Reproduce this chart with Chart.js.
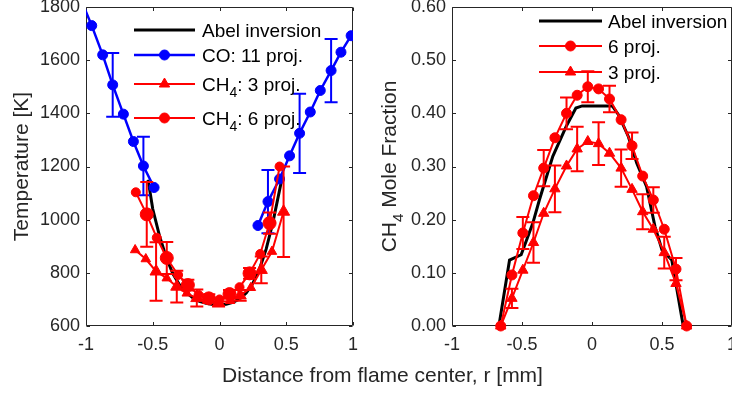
<!DOCTYPE html>
<html>
<head>
<meta charset="utf-8">
<script src="https://cdn.jsdelivr.net/npm/chart.js@4.4.1/dist/chart.umd.min.js"></script>
<style>
  html, body { margin: 0; padding: 0; background: #fff; overflow: hidden; width: 732px; height: 394px; }
  #tempChart { position: absolute; left: 0; top: 0; }
  #fracChart { position: absolute; left: 380px; top: 0; }
  #xTitle {
    position: absolute; left: 0; top: 364px; width: 765px; text-align: center;
    font: 21px 'Liberation Sans', Arial, Helvetica, sans-serif; line-height: 21px;
    color: #262626; white-space: nowrap;
  }
</style>
</head>
<body>
<canvas id="tempChart" width="362" height="394"></canvas>
<canvas id="fracChart" width="352" height="394"></canvas>
<div id="xTitle">Distance from flame center, r [mm]</div>
<script>
// ---- Temperature panel (K) ----
const tempAbelR = [-0.535, -0.5, -0.45, -0.4, -0.35, -0.3, -0.25, -0.2, -0.15, -0.1, -0.05, 0, 0.05, 0.1, 0.15, 0.2, 0.25, 0.3, 0.35, 0.4, 0.47];
const tempAbelK = [1150, 1040, 940, 860, 797, 755, 726, 706, 693, 685, 681, 680, 682, 689, 702, 724, 760, 815, 890, 990, 1160];

const coR       = [-1.04, -0.957, -0.875, -0.80, -0.72, -0.645, -0.57, -0.49, null, 0.288, 0.363, 0.45, 0.525, 0.60, 0.68, 0.755, 0.836, 0.91, 0.986];
const coTempK   = [1830, 1730, 1620, 1507, 1397, 1294, 1202, 1121, null, 978, 1068, 1153, 1240, 1325, 1405, 1486, 1561, 1630, 1692];
const coTempErr = [null, null, null, 120, null, null, 110, null, null, null, 119, null, null, 149, null, null, 119, null, null];

const ch4R3       = [-0.632, -0.552, -0.475, -0.395, -0.32, -0.245, -0.17, -0.09, -0.007, 0.08, 0.155, 0.235, 0.313, 0.393, 0.48];
const ch4TempK3   = [886, 852, 805, 780, 748, 723, 705, 695, 688, 695, 715, 744, 811, 880, 1030];
const ch4TempErr3 = [null, null, 110, null, 60, null, 32, null, 15, null, 20, null, 50, null, 170];

const ch4R6       = [-0.627, -0.545, -0.47, -0.395, -0.31, -0.237, -0.157, -0.08, 0.0, 0.075, 0.15, 0.225, 0.305, 0.375, 0.45];
const ch4TempK6   = [1103, 1020, 932, 856, 792, 754, 717, 704, 700, 720, 746, 798, 871, 987, 1200];
const ch4TempErr6 = [null, 122, null, 60, null, 20, null, 15, null, 15, null, 20, null, 40, null];

// ---- CH4 mole fraction panel ----
const fracAbelR = [-0.665, -0.589, -0.506, -0.423, -0.376, -0.28, -0.185, -0.115, -0.07, 0.145, 0.19, 0.26, 0.32, 0.39, 0.45, 0.5, 0.57, 0.64, 0.652];
const fracAbel  = [0, 0.124, 0.134, 0.193, 0.237, 0.319, 0.375, 0.41, 0.414, 0.414, 0.397, 0.356, 0.306, 0.262, 0.187, 0.143, 0.124, 0.018, 0];

const fracR    = [-0.652, -0.572, -0.494, -0.418, -0.345, -0.265, -0.182, -0.106, -0.03, 0.047, 0.125, 0.208, 0.286, 0.362, 0.438, 0.516, 0.60, 0.676];
const frac6    = [0, 0.096, 0.175, 0.245, 0.297, 0.354, 0.400, 0.434, 0.450, 0.446, 0.427, 0.388, 0.339, 0.282, 0.237, 0.182, 0.107, 0];
const fracErr6 = [null, null, 0.03, null, 0.034, null, 0.03, null, 0.029, null, 0.025, null, 0.025, null, 0.024, null, 0.021, null];
const frac3    = [0, 0.052, 0.105, 0.157, 0.212, 0.258, 0.301, 0.333, 0.347, 0.343, 0.325, 0.297, 0.257, 0.215, 0.182, 0.138, 0.080, 0];
const fracErr3 = [null, 0.018, null, 0.038, null, 0.044, null, 0.042, null, 0.04, null, 0.035, null, 0.033, null, 0.03, null, null];

// ---- Axis ticks ----
const rTicks    = [-1, -0.5, 0, 0.5, 1];
const tempTicks = [600, 800, 1000, 1200, 1400, 1600, 1800];
const fracTicks = [0, 0.1, 0.2, 0.3, 0.4, 0.5, 0.6];

const FONT = "'Liberation Sans', Arial, Helvetica, sans-serif";
const AXIS = '#262626';
const BLUE = '#0000ff', RED = '#ff0000', BLACK = '#000000';
const TICK_LEN = 3.5;
const CAP = 6.5;

const pts = (xs, ys) => xs.map((x, i) => ({ x: x, y: ys[i] }));

function series(xs, ys, color, width, style, radius, errors) {
  return {
    data: pts(xs, ys),
    borderColor: color,
    backgroundColor: color,
    borderWidth: width,
    pointStyle: style || false,
    pointRadius: radius || 0,
    pointBorderWidth: 1,
    pointBorderColor: color,
    pointBackgroundColor: color,
    tension: 0,
    spanGaps: false,
    errors: errors || null,
    clip: 8
  };
}

// vertical error bars with caps, drawn right after their own series
const errorBarPlugin = {
  id: 'errorBars',
  afterDatasetDraw(chart, args) {
    const ds = chart.data.datasets[args.index];
    if (!ds.errors) return;
    const { ctx } = chart;
    const xs = chart.scales.x, ys = chart.scales.y;
    ctx.save();
    ctx.strokeStyle = ds.borderColor;
    ctx.lineWidth = 2;
    ds.data.forEach((p, i) => {
      const e = ds.errors[i];
      if (e == null || p.y == null) return;
      const px = xs.getPixelForValue(p.x);
      const y0 = ys.getPixelForValue(p.y - e);
      const y1 = ys.getPixelForValue(p.y + e);
      ctx.beginPath();
      ctx.moveTo(px, y0); ctx.lineTo(px, y1);
      ctx.moveTo(px - CAP, y0); ctx.lineTo(px + CAP, y0);
      ctx.moveTo(px - CAP, y1); ctx.lineTo(px + CAP, y1);
      ctx.stroke();
    });
    ctx.restore();
  }
};

// boxed axes with inward ticks on all four sides
const framePlugin = {
  id: 'frame',
  beforeDatasetsDraw(chart) {
    const { ctx, chartArea: a } = chart;
    const xs = chart.scales.x, ys = chart.scales.y;
    const L = Math.round(a.left) + 0.5, R = Math.round(a.right) - 0.5;
    const T = Math.round(a.top) + 0.5, B = Math.round(a.bottom) - 0.5;
    ctx.save();
    ctx.strokeStyle = AXIS;
    ctx.lineWidth = 1;
    ctx.beginPath();
    ctx.rect(L, T, R - L, B - T);
    xs.ticks.forEach(t => {
      const px = Math.round(xs.getPixelForValue(t.value)) + 0.5;
      ctx.moveTo(px, B); ctx.lineTo(px, B - TICK_LEN);
      ctx.moveTo(px, T); ctx.lineTo(px, T + TICK_LEN);
    });
    ys.ticks.forEach(t => {
      const py = Math.round(ys.getPixelForValue(t.value)) + 0.5;
      ctx.moveTo(L, py); ctx.lineTo(L + TICK_LEN, py);
      ctx.moveTo(R, py); ctx.lineTo(R - TICK_LEN, py);
    });
    ctx.stroke();
    ctx.restore();
  }
};

// text made of pieces, where a piece may be a subscript
function richWidth(ctx, parts, size, subSize) {
  let w = 0;
  parts.forEach(p => {
    ctx.font = (p.sub ? subSize : size) + 'px ' + FONT;
    w += ctx.measureText(p.t).width;
  });
  return w;
}
function drawRich(ctx, parts, x, y, size, subSize, subShift) {
  let cx = x;
  parts.forEach(p => {
    ctx.font = (p.sub ? subSize : size) + 'px ' + FONT;
    ctx.fillText(p.t, cx, p.sub ? y + subShift : y);
    cx += ctx.measureText(p.t).width;
  });
}

// rotated y-axis title
const yTitlePlugin = {
  id: 'yTitle',
  afterDraw(chart, args, opts) {
    const { ctx, chartArea: a } = chart;
    ctx.save();
    ctx.fillStyle = AXIS;
    ctx.textBaseline = 'alphabetic';
    ctx.textAlign = 'left';
    const w = richWidth(ctx, opts.parts, 21, 15);
    ctx.translate(a.left + opts.offset, (a.top + a.bottom) / 2);
    ctx.rotate(-Math.PI / 2);
    drawRich(ctx, opts.parts, -w / 2, 0, 21, 15, 6.5);
    ctx.restore();
  }
};

// legend without a box, line samples with centred markers
const panelLegendPlugin = {
  id: 'panelLegend',
  afterDraw(chart, args, opts) {
    const { ctx, chartArea: a } = chart;
    ctx.save();
    ctx.textBaseline = 'alphabetic';
    ctx.textAlign = 'left';
    opts.items.forEach((it, i) => {
      const y = a.top + opts.rows[i];
      const x0 = a.left + opts.lineX0, x1 = a.left + opts.lineX1;
      ctx.strokeStyle = it.color;
      ctx.lineWidth = it.width;
      ctx.beginPath();
      ctx.moveTo(x0, y); ctx.lineTo(x1, y);
      ctx.stroke();
      if (it.style) {
        ctx.fillStyle = it.color;
        ctx.lineWidth = 1;
        Chart.helpers.drawPoint(ctx, {
          pointStyle: it.style, radius: it.radius, rotation: 0, borderWidth: 1
        }, (x0 + x1) / 2, y);
      }
      ctx.fillStyle = BLACK;
      drawRich(ctx, it.parts, a.left + opts.textX, y + 6.5, 19, 14, 6.5);
    });
    ctx.restore();
  }
};

function axes(yMin, yMax, yTicks, yFmt, yWidth) {
  return {
    x: {
      type: 'linear', min: -1, max: 1,
      grid: { display: false, drawTicks: false },
      border: { display: false },
      afterBuildTicks: s => { s.ticks = rTicks.map(v => ({ value: v })); },
      ticks: {
        font: { family: FONT, size: 18 }, color: AXIS, padding: 8,
        maxRotation: 0, autoSkip: false, callback: v => String(v)
      },
      afterFit: s => { s.height = 68; s.paddingLeft = 0; s.paddingRight = 0; }
    },
    y: {
      type: 'linear', min: yMin, max: yMax,
      grid: { display: false, drawTicks: false },
      border: { display: false },
      afterBuildTicks: s => { s.ticks = yTicks.map(v => ({ value: v })); },
      ticks: {
        font: { family: FONT, size: 18 }, color: AXIS, padding: 6,
        autoSkip: false, callback: yFmt
      },
      afterFit: s => { s.width = yWidth; s.paddingTop = 0; s.paddingBottom = 0; }
    }
  };
}

const common = {
  responsive: false,
  animation: false,
  events: [],
  devicePixelRatio: 1
};

Chart.register(errorBarPlugin, framePlugin, yTitlePlugin, panelLegendPlugin);

// first dataset is drawn on top, so the Abel profile goes last
new Chart(document.getElementById('tempChart'), {
  type: 'line',
  data: {
    datasets: [
      series(ch4R6, ch4TempK6, RED, 2, 'circle',
        c => (ch4TempErr6[c.dataIndex] != null ? 6.5 : 4.5), ch4TempErr6),
      series(ch4R3, ch4TempK3, RED, 2, 'triangle',
        c => (ch4TempErr3[c.dataIndex] != null ? 7 : 5.5), ch4TempErr3),
      Object.assign(series(coR, coTempK, BLUE, 2.5, 'circle', 5, coTempErr), { clip: undefined }),
      Object.assign(series(tempAbelR, tempAbelK, BLACK, 3), { clip: undefined })
    ]
  },
  options: Object.assign({}, common, {
    layout: { autoPadding: false, padding: { top: 7, right: 9, bottom: 0, left: 0 } },
    scales: axes(600, 1800, tempTicks, v => String(v), 86),
    plugins: {
      legend: { display: false },
      tooltip: { enabled: false },
      yTitle: { offset: -58, parts: [{ t: 'Temperature [K]' }] },
      panelLegend: {
        lineX0: 48, lineX1: 109, textX: 116,
        rows: [23, 48, 77, 111],
        items: [
          { color: BLACK, width: 3, parts: [{ t: 'Abel inversion' }] },
          { color: BLUE, width: 2.5, style: 'circle', radius: 5, parts: [{ t: 'CO: 11 proj.' }] },
          { color: RED, width: 2, style: 'triangle', radius: 6, parts: [{ t: 'CH' }, { t: '4', sub: true }, { t: ': 3 proj.' }] },
          { color: RED, width: 2, style: 'circle', radius: 5, parts: [{ t: 'CH' }, { t: '4', sub: true }, { t: ': 6 proj.' }] }
        ]
      }
    }
  })
});

new Chart(document.getElementById('fracChart'), {
  type: 'line',
  data: {
    datasets: [
      series(fracR, frac3, RED, 2, 'triangle', 6, fracErr3),
      series(fracR, frac6, RED, 2, 'circle', 5, fracErr6),
      series(fracAbelR, fracAbel, BLACK, 3)
    ]
  },
  options: Object.assign({}, common, {
    layout: { autoPadding: false, padding: { top: 7, right: 0, bottom: 0, left: 0 } },
    scales: axes(0, 0.6, fracTicks, v => Number(v).toFixed(2), 72),
    plugins: {
      legend: { display: false },
      tooltip: { enabled: false },
      yTitle: { offset: -56, parts: [{ t: 'CH' }, { t: '4', sub: true }, { t: ' Mole Fraction' }] },
      panelLegend: {
        lineX0: 87, lineX1: 150, textX: 156,
        rows: [14, 39, 65],
        items: [
          { color: BLACK, width: 3, parts: [{ t: 'Abel inversion' }] },
          { color: RED, width: 2, style: 'circle', radius: 5, parts: [{ t: '6 proj.' }] },
          { color: RED, width: 2, style: 'triangle', radius: 6, parts: [{ t: '3 proj.' }] }
        ]
      }
    }
  })
});
</script>
</body>
</html>
